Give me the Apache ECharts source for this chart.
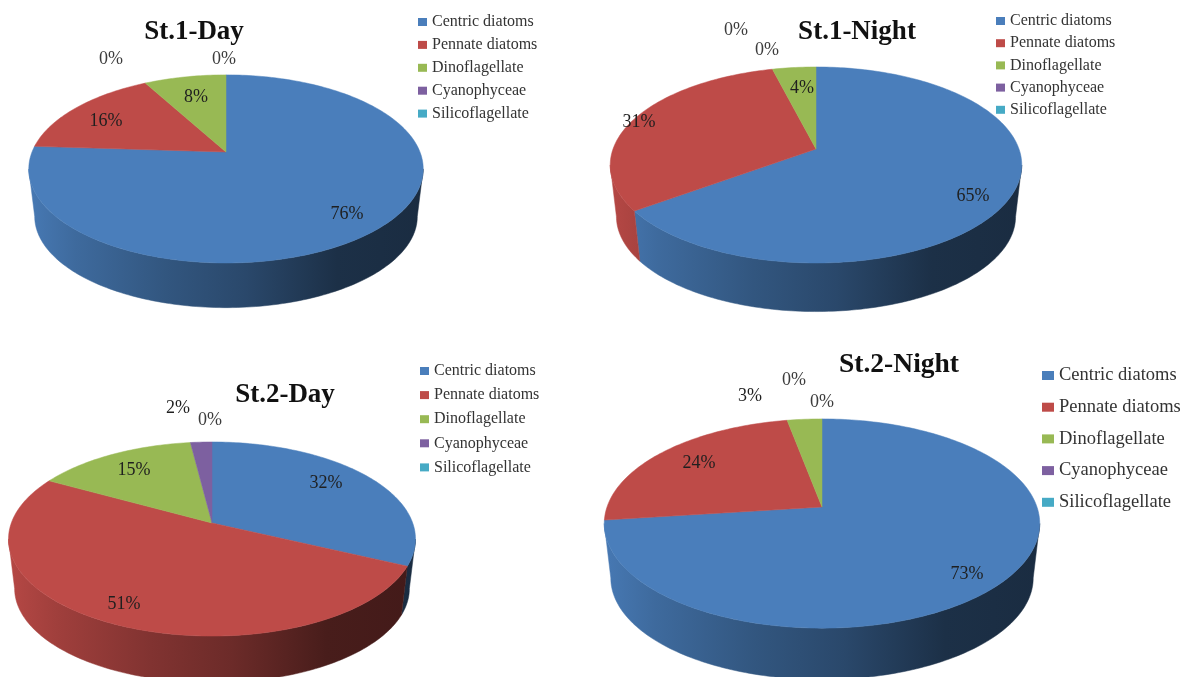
<!DOCTYPE html>
<html>
<head>
<meta charset="utf-8">
<style>html,body{margin:0;padding:0;background:#fff}#chart{width:1182px;height:677px}</style>
<script src="https://cdn.jsdelivr.net/npm/echarts@6/dist/echarts.min.js"></script>
</head>
<body>
<div id="chart"></div>
<script>
// Phytoplankton composition (%) at each station, day and night
const categories = ['Centric diatoms', 'Pennate diatoms', 'Dinoflagellate', 'Cyanophyceae', 'Silicoflagellate'];
const st1Day = [76, 16, 8, 0, 0];
const st1Night = [65, 31, 4, 0, 0];
const st2Day = [32, 51, 15, 2, 0];
const st2Night = [73, 24, 3, 0, 0];
const palette = ['#4a7ebb', '#be4b48', '#98b954', '#7d60a0', '#46aac5'];

const SERIF = '"Liberation Serif","Times New Roman",serif';

// Placement of each perspective pie: hub position, radii, perspective factor, wall depth
const panels = [
  { title: 'St.1-Day', values: st1Day, hx: 226, hy: 152, A: 91, B: 194, k: 0.18, d: 48,
    titleAt: [194, 16], titleSize: 27,
    labels: [[347, 214], [106, 121], [196, 97], [111, 59], [224, 59]],
    legend: { left: 418, top: 14, size: 16, gap: 6.9, mark: [9, 8] } },
  { title: 'St.1-Night', values: st1Night, hx: 816, hy: 149, A: 95.4, B: 203, k: 0.163, d: 52,
    titleAt: [857, 16], titleSize: 27,
    labels: [[973, 196], [639, 122], [802, 88], [736, 30], [767, 50]],
    legend: { left: 996, top: 13, size: 16, gap: 6.2, mark: [9, 8] } },
  { title: 'St.2-Day', values: st2Day, hx: 212, hy: 523, A: 94.4, B: 200.7, k: 0.165, d: 50,
    titleAt: [285, 379], titleSize: 27,
    labels: [[326, 483], [124, 604], [134, 470], [178, 408], [210, 420]],
    legend: { left: 420, top: 363, size: 16, gap: 8.1, mark: [9, 8] } },
  { title: 'St.2-Night', values: st2Night, hx: 822, hy: 507, A: 102, B: 215, k: 0.158, d: 55,
    titleAt: [899, 349], titleSize: 27.5,
    labels: [[967, 574], [699, 463], [750, 396], [794, 380], [822, 402]],
    legend: { left: 1042, top: 366, size: 18.5, gap: 12.7, mark: [12, 9] } }
];

const WALL_SCALE = 0.97;
const wallShade = [[0, 0.96], [0.12, 0.84], [0.35, 0.68], [0.55, 0.57], [0.78, 0.38], [1, 0.35]];

function shade(hex, f) {
  const n = parseInt(hex.slice(1), 16);
  const c = [n >> 16 & 255, n >> 8 & 255, n & 255].map(v => Math.round(v * f));
  return 'rgb(' + c.join(',') + ')';
}

// Maps a pie angle (clockwise from twelve o'clock) onto the tilted disc
function project(p, theta, scale, drop) {
  const w = 1 + p.k * Math.cos(theta);
  return [
    p.hx + scale * p.B * Math.sin(theta) / w,
    p.hy + drop - scale * p.A * Math.cos(theta) / w
  ];
}

function arc(p, from, to, scale, drop) {
  const steps = Math.max(2, Math.ceil(Math.abs(to - from) / 0.02));
  const pts = [];
  for (let i = 0; i <= steps; i++) pts.push(project(p, from + (to - from) * i / steps, scale, drop));
  return pts;
}

function sliceRenderer(p, catIndex) {
  return function (params, api) {
    const value = api.value(0);
    const start = api.value(1) / 100 * Math.PI * 2;
    const end = start + value / 100 * Math.PI * 2;
    const color = palette[catIndex];
    const children = [];

    if (value > 0) {
      // Side wall: only the arc facing the viewer
      const tangent = Math.acos(-p.k);
      const a = Math.max(start, tangent);
      const b = Math.min(end, Math.PI * 2 - tangent);
      if (b > a) {
        const left = p.hx - p.B * 1.02;
        const right = p.hx + p.B * 1.02;
        // The wall shades from left to right across the whole pie
        const stops = wallShade.map(s => ({ offset: s[0], color: shade(color, s[1]) }));
        const fill = new echarts.graphic.LinearGradient(left, 0, right, 0, stops, true);
        const pts = arc(p, a, b, 1, 0).concat(arc(p, b, a, WALL_SCALE, p.d));
        children.push({ type: 'polygon', z2: 1, shape: { points: pts },
          style: { fill: fill, stroke: fill, lineWidth: 0.5 } });
      }
      // Top face
      const top = [[p.hx, p.hy]].concat(arc(p, start, end, 1, 0));
      children.push({ type: 'polygon', z2: 2, shape: { points: top },
        style: { fill: color, stroke: color, lineWidth: 0.5 } });
    }

    const at = p.labels[catIndex];
    children.push({ type: 'text', z2: 3, x: at[0], y: at[1],
      style: { text: value + '%', font: '18px ' + SERIF, fill: value > 0 ? '#1f1f1f' : '#3c3c3c',
        align: 'center', verticalAlign: 'middle' } });
    return { type: 'group', children: children };
  };
}

const series = [];
panels.forEach(p => {
  let running = 0;
  p.values.forEach((v, i) => {
    series.push({
      type: 'custom',
      name: categories[i],
      coordinateSystem: 'none',
      silent: true,
      animation: false,
      itemStyle: { color: palette[i] },
      data: [[v, running]],
      renderItem: sliceRenderer(p, i)
    });
    running += v;
  });
});

const chart = echarts.init(document.getElementById('chart'), null, { renderer: 'canvas' });
chart.setOption({
  backgroundColor: '#ffffff',
  animation: false,
  title: panels.map(p => ({
    text: p.title,
    left: p.titleAt[0],
    top: p.titleAt[1],
    textAlign: 'center',
    padding: 0,
    textStyle: { fontFamily: SERIF, fontWeight: 'bold', fontSize: p.titleSize, color: '#111', lineHeight: 32 }
  })),
  legend: panels.map(p => ({
    data: categories,
    orient: 'vertical',
    left: p.legend.left,
    top: p.legend.top,
    padding: 0,
    itemWidth: p.legend.mark[0],
    itemHeight: p.legend.mark[1],
    itemGap: p.legend.gap,
    icon: 'rect',
    selectedMode: false,
    textStyle: { fontFamily: SERIF, fontSize: p.legend.size, lineHeight: p.legend.size, color: '#333' }
  })),
  series: series
});
</script>
</body>
</html>
